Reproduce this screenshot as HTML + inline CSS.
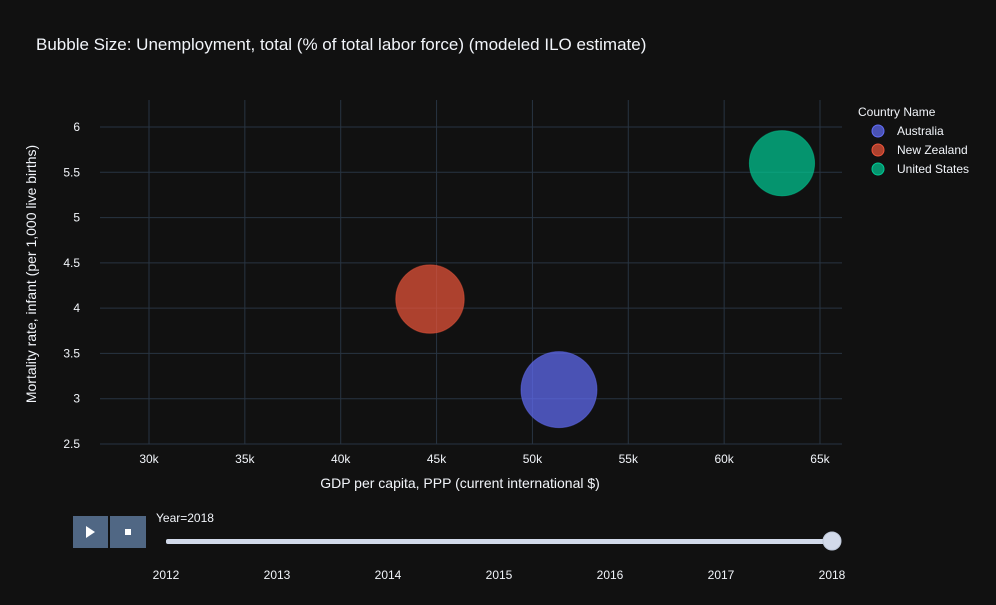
<!DOCTYPE html>
<html><head><meta charset="utf-8"><style>
body{margin:0;background:#111111;width:996px;height:600px;overflow:hidden;font-family:"Liberation Sans",sans-serif}
svg text{font-family:"Liberation Sans",sans-serif;fill:#f2f5fa}
</style></head><body>
<svg id="c" width="996" height="600">
<rect width="996" height="600" fill="#111111"/>
<text x="36" y="50" font-size="17">Bubble Size: Unemployment, total (% of total labor force) (modeled ILO estimate)</text>
<g id="grid"></g>
<g id="marks"></g>
<g id="axes"></g>
<text x="460" y="488" font-size="14" text-anchor="middle">GDP per capita, PPP (current international $)</text>
<text transform="translate(36,274) rotate(-90)" font-size="14" text-anchor="middle">Mortality rate, infant (per 1,000 live births)</text>
<text x="858" y="116" font-size="12">Country Name</text>
<g id="legend"></g>
<rect x="73" y="516" width="35" height="32" fill="#506784"/>
<path d="M86,526 L95,532 L86,538Z" fill="#fff"/>
<rect x="110" y="516" width="36" height="32" fill="#506784"/>
<rect x="125" y="529" width="6" height="6" fill="#fff"/>
<text x="156" y="522" font-size="12">Year=2018</text>
<rect x="166" y="539" width="666" height="5" rx="2" fill="#d2daea"/>
<g id="slider"></g>
</svg>
<script>
const countries=["Australia","New Zealand","United States"];
const gdp=[51385,44657,63017];
const mortality=[3.1,4.1,5.6];
const unemployment=[5.3,4.3,3.9];
const colors=["#636efa","#EF553B","#00cc96"];
const xTicks=[30000,35000,40000,45000,50000,55000,60000,65000];
const xTickLabels=["30k","35k","40k","45k","50k","55k","60k","65k"];
const yTicks=[2.5,3,3.5,4,4.5,5,5.5,6];
const yTickLabels=["2.5","3","3.5","4","4.5","5","5.5","6"];
const years=["2012","2013","2014","2015","2016","2017","2018"];
const activeYear="2018";
const NS="http://www.w3.org/2000/svg";
const L=100,R=842,T=100,B=444,x0=27444,x1=66148,y0=2.5,y1=6.298;
const sx=v=>L+(v-x0)/(x1-x0)*(R-L);
const sy=v=>B-(v-y0)/(y1-y0)*(B-T);
function mk(p,t,a){const e=document.createElementNS(NS,t);for(const k in a)e.setAttribute(k,a[k]);document.getElementById(p).appendChild(e);return e;}
xTicks.forEach((v,i)=>{
 const l=mk('grid','line',{x1:sx(v),x2:sx(v),y1:T,y2:B,stroke:'#283442'});
 
 
 const t=mk('axes','text',{x:sx(v),y:B+19,'font-size':12,'text-anchor':'middle'});t.textContent=xTickLabels[i];
 
 
});
yTicks.forEach((v,i)=>{
 const l=mk('grid','line',{x1:L,x2:R,y1:sy(v),y2:sy(v),stroke:'#283442'});
 
 
 const t=mk('axes','text',{x:L-20,y:sy(v)+4,'font-size':12,'text-anchor':'end'});t.textContent=yTickLabels[i];
 
 
});
countries.forEach((c,i)=>{
 const r=38*Math.sqrt(unemployment[i]/5.3);
 const b=mk('marks','circle',{cx:sx(gdp[i]),cy:sy(mortality[i]),r:r,fill:colors[i],'fill-opacity':0.7,stroke:colors[i],'stroke-opacity':0.5});
 
 
 const y=131+i*19;
 const d=mk('legend','circle',{cx:878,cy:y,r:6,fill:colors[i],'fill-opacity':0.7,stroke:colors[i]});
 
 
 const t=mk('legend','text',{x:897,y:y+4,'font-size':12});t.textContent=c;
 
 
});
years.forEach((y,i)=>{
 const x=166+i*(666/(years.length-1));
 const t=mk('slider','text',{x:x,y:579,'font-size':12,'text-anchor':'middle'});t.textContent=y;
 
 
 if(y===activeYear){
  const h=mk('slider','circle',{cx:x,cy:541,r:9,fill:'#d2daea',stroke:'#bec8d9'});
  
  
 }
});
</script>
</body></html>
